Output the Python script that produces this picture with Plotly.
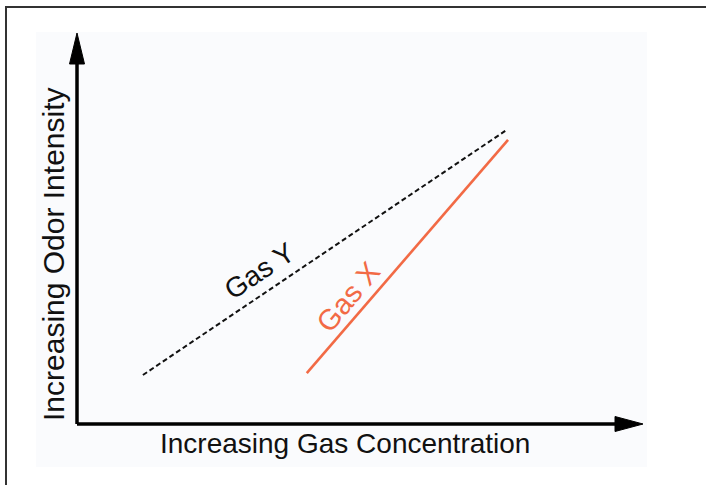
import plotly.graph_objects as go

# Data (axis units 0..10, no ticks shown)
gas_y_x = [1.18, 7.57]
gas_y_y = [1.23, 7.49]
gas_x_x = [4.07, 7.62]
gas_x_y = [1.28, 7.26]

x_title = "Increasing Gas Concentration"
y_title = "Increasing Odor Intensity"
label_y = "Gas Y"
label_x = "Gas X"

ORANGE = "#f26a45"
FONT = "Liberation Sans, Arial, sans-serif"

W, H = 706, 485
L, R, T, B = 76, 63, 33, 62
PW, PH = W - L - R, H - T - B

def px(xp):
    return (xp - L) / PW

def py(yp):
    return (H - B - yp) / PH

fig = go.Figure()
fig.add_trace(go.Scatter(x=gas_y_x, y=gas_y_y, mode="lines",
                         line=dict(color="#111111", width=2, dash="5px,3px"),
                         hoverinfo="skip", showlegend=False))
fig.add_trace(go.Scatter(x=gas_x_x, y=gas_x_y, mode="lines",
                         line=dict(color=ORANGE, width=2.6),
                         hoverinfo="skip", showlegend=False))

shapes = [
    # light panel
    dict(type="rect", xref="paper", yref="paper", x0=px(36), x1=px(647), y0=py(467), y1=py(32),
         fillcolor="#fafbfd", line=dict(width=0), layer="below"),
    # outer frame (left + top visible)
    dict(type="rect", xref="paper", yref="paper", x0=px(6), x1=px(760), y0=py(540), y1=py(7),
         fillcolor="rgba(0,0,0,0)", line=dict(color="#333333", width=2), layer="below"),
    # y-axis stem
    dict(type="line", xref="paper", yref="paper", x0=px(77), x1=px(77), y0=py(424), y1=py(60),
         line=dict(color="black", width=3.5)),
    # x-axis stem
    dict(type="line", xref="paper", yref="paper", x0=px(77), x1=px(620), y0=py(424), y1=py(424),
         line=dict(color="black", width=3.5)),
    # y arrow head
    dict(type="path", xref="paper", yref="paper",
         path=f"M {px(69.5)},{py(64)} L {px(77)},{py(33)} L {px(84.5)},{py(64)} Z",
         fillcolor="black", line=dict(color="black", width=1)),
    # x arrow head
    dict(type="path", xref="paper", yref="paper",
         path=f"M {px(615)},{py(416.5)} L {px(643)},{py(424)} L {px(615)},{py(431.5)} Z",
         fillcolor="black", line=dict(color="black", width=1)),
]

annotations = [
    dict(text=x_title, xref="paper", yref="paper", x=px(345), y=py(443), showarrow=False,
         font=dict(family=FONT, size=28, color="#111111"), xanchor="center", yanchor="middle"),
    dict(text=y_title, xref="paper", yref="paper", x=px(53), y=py(254), showarrow=False,
         textangle=-90, font=dict(family=FONT, size=30, color="#111111"),
         xanchor="center", yanchor="middle"),
    dict(text=label_y, xref="x", yref="y", x=3.25, y=3.90, showarrow=False, textangle=-34,
         font=dict(family=FONT, size=28, color="#111111"), xanchor="center", yanchor="middle"),
    dict(text=label_x, xref="x", yref="y", x=4.80, y=3.23, showarrow=False, textangle=-50,
         font=dict(family=FONT, size=29, color=ORANGE), xanchor="center", yanchor="middle"),
]

fig.update_layout(
    width=W, height=H,
    margin=dict(l=L, r=R, t=T, b=B),
    paper_bgcolor="white", plot_bgcolor="rgba(0,0,0,0)",
    xaxis=dict(range=[0, 10], visible=False, fixedrange=True),
    yaxis=dict(range=[0, 10], visible=False, fixedrange=True),
    shapes=shapes, annotations=annotations, showlegend=False,
)

fig.write_html("out.html", config={"displayModeBar": False},
               post_script="document.body.style.margin='0';document.body.style.overflow='hidden';")
